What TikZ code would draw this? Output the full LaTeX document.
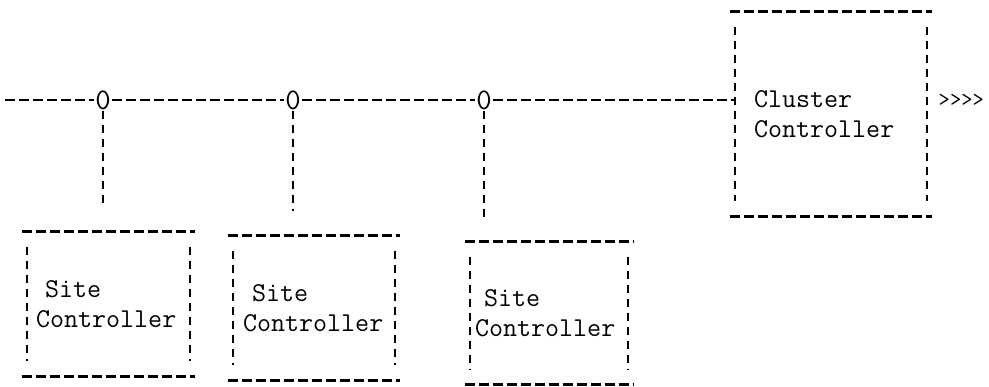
\documentclass[tikz,border=0pt]{standalone}
\usetikzlibrary{calc}
\tikzset{
  hline/.style={line width=1.6pt,dash pattern=on 0.2cm off 0.08cm},
  vline/.style={line width=1.1pt,dash pattern=on 0.16cm off 0.12cm},
  ctrl/.style={font=\ttfamily\fontsize{15.5}{17}\selectfont,align=left,inner sep=0pt},
  tap/.style={font=\ttfamily\fontsize{17}{19}\selectfont,inner sep=0.5pt},
}

\begin{document}
\begin{tikzpicture}
  \useasboundingbox (0,0) rectangle (19.78,-7.74);

  % controller boxes
  \node[ctrl,text width=2.9cm,minimum width=3.46cm,minimum height=2.88cm] (site1) at (2.17,-6.08) {~Site\\Controller};
  \node[ctrl,text width=2.84cm,minimum width=3.44cm,minimum height=2.88cm] (site2) at (6.28,-6.16) {~Site\\Controller};
  \node[ctrl,text width=2.96cm,minimum width=3.36cm,minimum height=2.84cm] (site3) at (10.98,-6.26) {~Site\\Controller};
  \node[ctrl,text width=3.08cm,minimum width=4.04cm,minimum height=4.08cm] (cluster) at (16.62,-2.28) {Cluster\\Controller};

  \foreach \b in {site1,site2,site3,cluster}{
    \draw[hline] (\b.north west) -- (\b.north east);
    \draw[hline] (\b.south west) -- (\b.south east);
    \draw[vline] ([shift={(0.1,-0.3)}]\b.north west) -- ([shift={(0.1,0.3)}]\b.south west);
    \draw[vline] ([shift={(-0.1,-0.3)}]\b.north east) -- ([shift={(-0.1,0.3)}]\b.south east);
  }

  % bus with taps
  \coordinate (busstart) at (0.1,-2.0);
  \node[tap] (tap1) at (2.06,-2.0) {0};
  \node[tap] (tap2) at (5.86,-2.0) {0};
  \node[tap] (tap3) at (9.68,-2.0) {0};

  \draw[hline] (busstart) -- (tap1.west);
  \draw[hline] (tap1.east) -- (tap2.west);
  \draw[hline] (tap2.east) -- (tap3.west);
  \draw[hline] (tap3.east) -- ([xshift=0.1cm]tap3.east -| cluster.west);

  \draw[vline] (tap1.south) -- ([yshift=0.5cm]tap1.south |- site1.north);
  \draw[vline] (tap2.south) -- ([yshift=0.5cm]tap2.south |- site2.north);
  \draw[vline] (tap3.south) -- ([yshift=0.5cm]tap3.south |- site3.north);

  \node[font=\ttfamily\fontsize{12.5}{15}\selectfont,inner sep=0pt,anchor=west] (out) at ([xshift=0.12cm]cluster.east |- busstart) {{>}{>}{>}{>}};
\end{tikzpicture}
\end{document}
